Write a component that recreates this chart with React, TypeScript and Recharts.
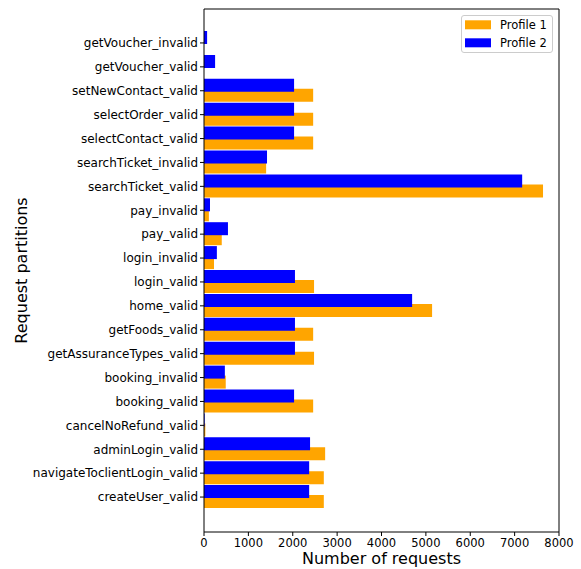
import React from 'react';
import { BarChart, Bar, XAxis, YAxis, Legend } from 'recharts';

const categories = [
  'getVoucher_invalid',
  'getVoucher_valid',
  'setNewContact_valid',
  'selectOrder_valid',
  'selectContact_valid',
  'searchTicket_invalid',
  'searchTicket_valid',
  'pay_invalid',
  'pay_valid',
  'login_invalid',
  'login_valid',
  'home_valid',
  'getFoods_valid',
  'getAssuranceTypes_valid',
  'booking_invalid',
  'booking_valid',
  'cancelNoRefund_valid',
  'adminLogin_valid',
  'navigateToclientLogin_valid',
  'createUser_valid',
];

const profile1 = [0, 0, 2460, 2460, 2460, 1400, 7640, 110, 400, 225, 2480, 5140, 2460, 2480, 490, 2460, 30, 2730, 2700, 2700];
const profile2 = [70, 250, 2030, 2030, 2030, 1420, 7170, 135, 540, 290, 2050, 4690, 2050, 2050, 470, 2030, 15, 2390, 2370, 2370];

const xTicks = [0, 1000, 2000, 3000, 4000, 5000, 6000, 7000, 8000];

const series = [
  { key: 'p1', name: 'Profile 1', color: '#FFA500' },
  { key: 'p2', name: 'Profile 2', color: '#0000FF' },
];

const data = categories.map((name, i) => ({ name, p1: profile1[i], p2: profile2[i] }));

const FONT = '"DejaVu Sans", sans-serif';

const LegendBox = () => (
  <div
    style={{
      width: 92,
      height: 38,
      boxSizing: 'border-box',
      border: '1px solid #cccccc',
      borderRadius: 3,
      background: 'rgba(255,255,255,0.8)',
    }}
  >
    <svg width={90} height={36} style={{ display: 'block' }}>
      {series.map((s, i) => (
        <g key={s.key}>
          <rect x={3} y={4.3 + i * 18} width={26} height={9} fill={s.color} />
          <text x={38} y={13.3 + i * 18} fontSize={11.5} fontFamily={FONT} fill="#000">
            {s.name}
          </text>
        </g>
      ))}
    </svg>
  </div>
);

export default function App() {
  return (
    <div style={{ position: 'absolute', left: 0, top: 0, background: '#fff' }}>
      <BarChart
        width={581}
        height={569}
        data={data}
        layout="vertical"
        margin={{ top: 8, right: 21, bottom: 0, left: 0 }}
        barSize={13}
        barGap={-23}
      >
        <XAxis
          type="number"
          domain={[0, 8000]}
          ticks={xTicks}
          height={37}
          tickSize={4}
          tickMargin={3}
          axisLine={{ stroke: '#000' }}
          tickLine={{ stroke: '#000' }}
          tick={{ fontSize: 11.5, fontFamily: FONT, fill: '#000' }}
          label={{
            value: 'Number of requests',
            position: 'insideBottom',
            offset: 5,
            style: { fontSize: 16, fontFamily: FONT, fill: '#000' },
          }}
        />
        <XAxis
          xAxisId="top"
          orientation="top"
          type="number"
          domain={[0, 8000]}
          height={1}
          tick={false}
          tickLine={false}
          axisLine={{ stroke: '#000' }}
        />
        <YAxis
          type="category"
          dataKey="name"
          width={204}
          interval={0}
          padding={{ top: 22, bottom: 23 }}
          tickSize={4}
          tickMargin={2}
          axisLine={{ stroke: '#000' }}
          tickLine={{ stroke: '#000' }}
          tick={{ fontSize: 12, fontFamily: FONT, fill: '#000' }}
          label={{
            value: 'Request partitions',
            angle: -90,
            position: 'insideLeft',
            offset: 21,
            style: { fontSize: 16, fontFamily: FONT, fill: '#000', textAnchor: 'middle' },
          }}
        />
        <YAxis
          yAxisId="right"
          orientation="right"
          type="number"
          domain={[0, 1]}
          width={1}
          tick={false}
          tickLine={false}
          axisLine={{ stroke: '#000' }}
        />
        <Legend
          layout="vertical"
          align="center"
          verticalAlign="middle"
          content={() => <LegendBox />}
          wrapperStyle={{ position: 'absolute', left: 461, top: 15, width: 92, height: 38 }}
        />
        {series.map((s) => (
          <Bar key={s.key} dataKey={s.key} name={s.name} fill={s.color} isAnimationActive={false} />
        ))}
      </BarChart>
    </div>
  );
}
